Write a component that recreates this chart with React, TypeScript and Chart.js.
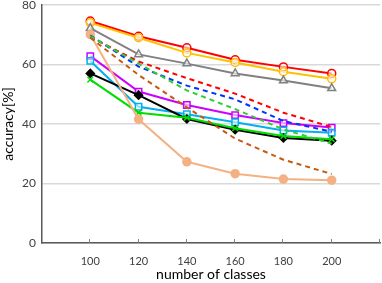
import React, { useEffect, useRef } from "react";
import { Chart, registerables } from "chart.js";

Chart.register(...registerables);

const classes = [100, 120, 140, 160, 180, 200];
const redSolid = [74.6, 69.5, 65.6, 61.6, 59.2, 57.0];
const yellowSolid = [74.0, 69.0, 63.9, 60.7, 57.6, 55.2];
const graySolid = [72.2, 63.4, 60.3, 57.0, 54.6, 52.0];
const magentaSolid = [62.8, 50.9, 46.4, 43.0, 40.3, 38.8];
const cyanSolid = [61.2, 45.8, 43.3, 40.6, 37.8, 37.1];
const blackSolid = [57.0, 49.7, 41.7, 38.1, 35.3, 34.4];
const greenSolid = [54.9, 43.8, 42.1, 38.6, 36.0, 34.9];
const peachSolid = [70.1, 41.6, 27.3, 23.3, 21.5, 21.1];
const redDashed = [69.2, 61.0, 55.4, 50.2, 43.8, 39.0];
const blueDashed = [69.8, 59.3, 52.9, 48.3, 41.0, 37.4];
const greenDashed = [69.5, 60.3, 51.3, 45.0, 38.2, 33.4];
const brownDashed = [69.0, 56.5, 45.6, 35.1, 28.0, 23.2];
const xTicks = [100, 120, 140, 160, 180, 200];
const yTicks = [0, 20, 40, 60, 80];

const FONT = "Lato";

function mk(label: string, vals: number[], color: string, opts: any = {}) {
  return {
    label,
    data: vals.map((v, i) => ({ x: classes[i], y: v })),
    borderColor: color,
    backgroundColor: "#ffffff",
    borderWidth: 2,
    pointBorderColor: color,
    pointBackgroundColor: "rgba(255,255,255,0.6)",
    pointBorderWidth: 1.5,
    pointRadius: 4,
    ...opts,
  };
}

const tickPlugin = {
  id: "innerTicks",
  afterDraw(chart: any) {
    const x = chart.scales.x;
    const ctx = chart.ctx;
    const bottom = chart.chartArea.bottom;
    ctx.save();
    ctx.strokeStyle = "#808080";
    ctx.lineWidth = 1;
    [100, 120, 140, 160, 180, 200, 220].forEach((v) => {
      const px = Math.round(x.getPixelForValue(v)) - 0.5;
      ctx.beginPath();
      ctx.moveTo(px, bottom);
      ctx.lineTo(px, bottom - 4);
      ctx.stroke();
    });
    ctx.restore();
  },
};

export default function App() {
  const ref = useRef<HTMLCanvasElement>(null);
  useEffect(() => {
    document.body.style.margin = "0";
    const ctx = ref.current!;
    const dash = [5, 4];
    const chart = new Chart(ctx, {
      type: "line",
      data: {
        datasets: [
          mk("brownDashed", brownDashed, "#c55a11", { borderDash: dash, pointRadius: 0 }),
          mk("greenDashed", greenDashed, "#33cc33", { borderDash: dash, pointRadius: 0 }),
          mk("blueDashed", blueDashed, "#0033ff", { borderDash: dash, pointRadius: 0 }),
          mk("redDashed", redDashed, "#ff0000", { borderDash: dash, pointRadius: 0 }),
          mk("peach", peachSolid, "#f4b183", { pointBackgroundColor: "#f4b183" }),
          mk("green", greenSolid, "#00dd00", { pointStyle: "crossRot", pointRadius: 4 }),
          mk("black", blackSolid, "#000000", { pointStyle: "rectRot", pointBackgroundColor: "#000000", pointRadius: 4 }),
          mk("cyan", cyanSolid, "#00b0f0", { pointStyle: "rect", pointRadius: 4.5 }),
          mk("magenta", magentaSolid, "#cc00ff", { pointStyle: "rect", pointRadius: 4.5 }),
          mk("gray", graySolid, "#808080", { pointStyle: "triangle", pointRadius: 4.5 }),
          mk("yellow", yellowSolid, "#ffc000", {}),
          mk("red", redSolid, "#ff0000", {}),
        ],
      },
      options: {
        animation: false,
        responsive: false,
        maintainAspectRatio: false,
        layout: { autoPadding: false, padding: { top: 5, right: 2, left: 0, bottom: 0 } },
        plugins: { legend: { display: false }, tooltip: { enabled: false } },
        scales: {
          x: {
            type: "linear",
            min: 80,
            max: 220,
            afterBuildTicks: (s: any) => {
              s.ticks = xTicks.map((v) => ({ value: v }));
            },
            afterFit: (s: any) => {
              s.height = 40;
              s.paddingLeft = 0;
              s.paddingRight = 0;
            },
            grid: { display: false },
            border: { display: true, color: "#595959", width: 1.5 },
            ticks: { color: "#404040", font: { family: FONT, size: 11 }, padding: 4, maxRotation: 0 },
            title: {
              display: true,
              text: "number of classes",
              color: "#000000",
              font: { family: FONT, size: 14 },
              padding: { top: 0, bottom: 0 },
            },
          },
          y: {
            min: 0,
            max: 80,
            afterBuildTicks: (s: any) => {
              s.ticks = yTicks.map((v) => ({ value: v }));
            },
            afterFit: (s: any) => {
              s.width = 42;
              s.paddingTop = 0;
              s.paddingBottom = 0;
            },
            grid: { color: "#d9d9d9", lineWidth: 1.5, drawTicks: false },
            border: { display: true, color: "#595959", width: 1.5 },
            ticks: { color: "#404040", font: { family: FONT, size: 12 }, padding: 6 },
            title: {
              display: true,
              text: "accuracy[%]",
              color: "#000000",
              font: { family: FONT, size: 14 },
              padding: { top: 0, bottom: 2 },
            },
          },
        },
      },
      plugins: [tickPlugin],
    });
    return () => chart.destroy();
  }, []);
  return (
    <div style={{ width: 382, height: 283 }}>
      <canvas ref={ref} width={382} height={283} style={{ display: "block" }} />
    </div>
  );
}
